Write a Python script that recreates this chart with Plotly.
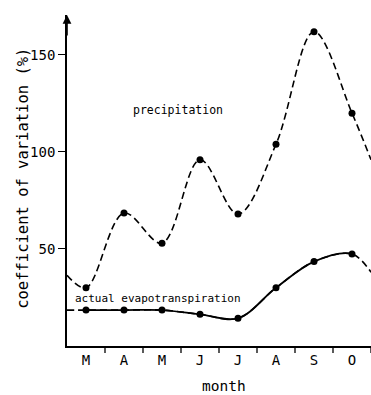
import plotly.graph_objects as go

months = ["M", "A", "M", "J", "J", "A", "S", "O"]
precip = [30, 68.5, 53, 96, 68, 104, 162, 120]
evapo = [18.5, 18.5, 18.5, 16.3, 14.3, 30, 43.5, 47.4]
# curve values read at the left and right edges of the plot
precip_edges = [36.5, 96]
evapo_edges = [18.5, 38]

idx = list(range(len(months)))
x_lo, x_hi = -0.5, len(months) - 0.5
n = len(months)
font = "DejaVu Sans Mono"

ex = [x_lo] + idx + [x_hi]
ey = [evapo_edges[0]] + evapo + [evapo_edges[1]]

fig = go.Figure()

# precipitation dashed smooth curve
fig.add_trace(go.Scatter(
    x=ex, y=[precip_edges[0]] + precip + [precip_edges[1]],
    mode="lines", line=dict(color="black", width=1.6, dash="7px,4px", shape="spline", smoothing=1.0),
    hoverinfo="skip", showlegend=False))

# evapotranspiration: dashed full curve, solid part (same spline) clipped to data span
fig.add_trace(go.Scatter(
    x=ex, y=ey, mode="lines",
    line=dict(color="black", width=1.6, dash="7px,4px", shape="spline", smoothing=1.0),
    hoverinfo="skip", showlegend=False))
fig.add_trace(go.Scatter(
    x=ex, y=ey, mode="lines", xaxis="x2", yaxis="y",
    line=dict(color="black", width=1.8, shape="spline", smoothing=1.0),
    hoverinfo="skip", showlegend=False))

fig.add_trace(go.Scatter(x=idx, y=precip, mode="markers",
                         marker=dict(color="black", size=7), showlegend=False))
fig.add_trace(go.Scatter(x=idx, y=evapo, mode="markers",
                         marker=dict(color="black", size=7), showlegend=False))

span = x_hi - x_lo
fig.update_layout(
    width=371, height=395,
    margin=dict(l=67, r=0, t=15, b=49),
    paper_bgcolor="white", plot_bgcolor="rgba(0,0,0,0)",
    font=dict(family=font, color="black", size=14),
    xaxis=dict(range=[x_lo, x_hi], domain=[0, 1], tickmode="array", tickvals=idx, ticktext=months,
               showgrid=False, zeroline=False, showline=True, linecolor="black", linewidth=1.6,
               ticks="", tickfont=dict(size=14, family=font), fixedrange=True),
    xaxis2=dict(range=[0, n - 1], domain=[(0 - x_lo) / span, (n - 1 - x_lo) / span],
                anchor="y", visible=False, fixedrange=True),
    yaxis=dict(range=[0, 170.6], tickmode="array", tickvals=[50, 100, 150],
               ticktext=["50", "100", "150"], anchor="x",
               showgrid=False, zeroline=False, showline=True, linecolor="black", linewidth=1.6,
               ticks="outside", ticklen=7, tickwidth=1.3, tickcolor="black",
               tickfont=dict(size=14, family=font), fixedrange=True),
)

# tick marks between months on the x-axis
for k in range(n):
    fig.add_shape(type="line", xref="x", yref="paper", x0=k + 0.5, x1=k + 0.5,
                  y0=0, y1=-7 / 331, line=dict(color="black", width=1.3))

annotations = [
    dict(text="precipitation", x=2.41, y=121.6, xref="x", yref="y", showarrow=False,
         font=dict(size=11.5, family=font)),
    dict(text="actual evapotranspiration", x=1.89, y=24.7, xref="x", yref="y", showarrow=False,
         font=dict(size=11, family=font)),
    dict(text="coefficient of variation (%)", textangle=-90, x=-0.1447, y=0.505,
         xref="paper", yref="paper", xanchor="center", yanchor="middle", showarrow=False,
         font=dict(size=15.5, family=font)),
    dict(text="month", x=3.63, y=-0.121, xref="x", yref="paper", showarrow=False,
         xanchor="center", yanchor="middle", font=dict(size=14.5, family=font)),
    dict(text="", x=x_lo, y=1, xref="x", yref="paper", ax=0, ay=22, showarrow=True,
         arrowhead=2, arrowsize=1.1, arrowwidth=1.6, arrowcolor="black"),
]
fig.update_layout(annotations=annotations)

fig.write_html("out.html")
